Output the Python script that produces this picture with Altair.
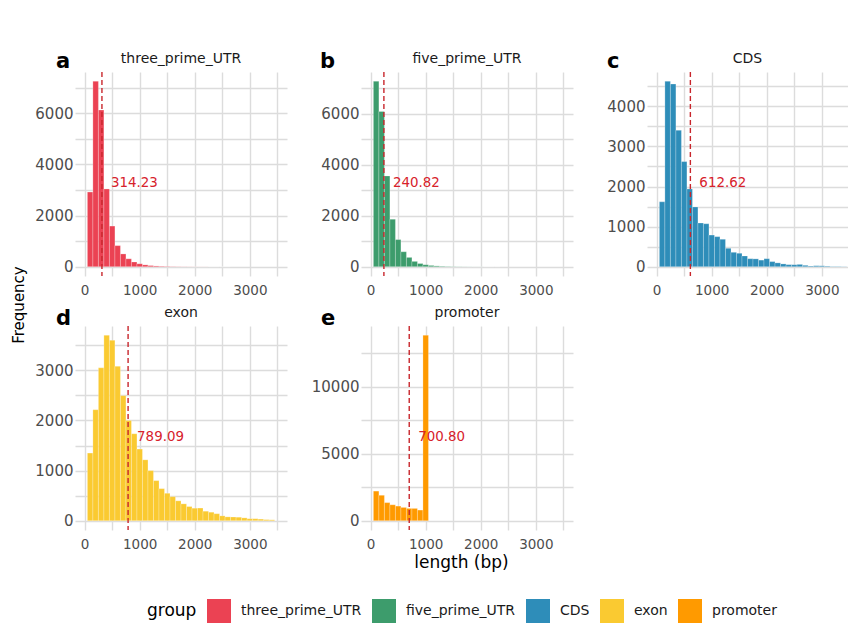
import altair as alt
import pandas as pd

FONT = "DejaVu Sans"

# Feature types, panel tags, fill colours and mean lengths
GROUPS = ["three_prime_UTR", "five_prime_UTR", "CDS", "exon", "promoter"]
LETTERS = ["a", "b", "c", "d", "e"]
COLORS = ["#EB4253", "#3D9C6C", "#2E8DB9", "#FACA31", "#FF9A00"]
MEAN_LEN = [314.23, 240.82, 612.62, 789.09, 700.80]

# Histogram bins: 100 bp wide, first bin starts at 50 bp
BIN_WIDTH = 100
BIN_START = list(range(50, 3450, BIN_WIDTH))

# Counts per bin for each feature type
COUNT_3UTR = [2920, 7250, 6125, 3040, 1590, 825, 500, 310, 185, 115, 72, 45,
              30, 20, 14, 10, 7, 5, 4, 3, 2, 2, 1, 1, 1, 1, 0, 0, 0, 0, 0, 0, 0, 0]
COUNT_5UTR = [7265, 6080, 3555, 1860, 1063, 587, 365, 209, 125, 78, 50, 32,
              20, 13, 9, 6, 4, 3, 2, 2, 1, 1, 1, 0, 0, 0, 0, 0, 0, 0, 0, 0, 0, 0]
COUNT_CDS = [1618, 4625, 4556, 3402, 2622, 1940, 1490, 1090, 1072, 790, 750, 685,
             460, 360, 336, 268, 200, 196, 165, 200, 128, 96, 70, 52, 50, 58,
             35, 18, 25, 23, 15, 8, 8, 5]
COUNT_EXON = [1350, 2215, 3050, 3700, 3600, 3080, 2495, 2000, 1735, 1430, 1215, 1000,
              800, 640, 548, 480, 397, 337, 283, 250, 253, 190, 170, 140, 97, 77,
              74, 70, 57, 40, 40, 32, 22, 18]
COUNT_PROMOTER = [2210, 1900, 1350, 1190, 1092, 992, 918, 918, 795, 13840,
                  0, 0, 0, 0, 0, 0, 0, 0, 0, 0, 0, 0, 0, 0, 0, 0, 0, 0, 0, 0, 0, 0, 0, 0]
COUNTS = [COUNT_3UTR, COUNT_5UTR, COUNT_CDS, COUNT_EXON, COUNT_PROMOTER]

# x limits 0-3500 with 5% expansion on each side
X_LO, X_HI = -175, 3675
FULL_W = 212
PANEL_H = 204
COL_GAP = 74
ROW_GAP = 50

LINE_RED = "#C8262C"
TEXT_RED = "#D7212B"
GRID = "#dcdcdc"

color_scale = alt.Scale(domain=GROUPS, range=COLORS)
legend = alt.Legend(
    orient="none", legendX=72, legendY=527, direction="horizontal",
    title="group", titleOrient="left", titleFontSize=17, titleFontWeight="normal",
    titleColor="black", titlePadding=10, titleFont=FONT,
    titleAnchor="middle", titleBaseline="middle",
    labelFontSize=14, labelColor="#1a1a1a", labelFont=FONT, labelOffset=10,
    symbolType="square", symbolSize=576, symbolStrokeWidth=0, symbolOpacity=1,
    columnPadding=10,
)


def panel(i, width, y_step, y_major, letter_dx, letter_dy, x_title=None, y_title=False):
    name = GROUPS[i]
    counts = COUNTS[i]
    peak = max(counts)

    bars_df = pd.DataFrame({
        "start": BIN_START,
        "end": [s + BIN_WIDTH for s in BIN_START],
        "count": counts,
        "base": 0,
        "group": name,
    })
    stat_df = pd.DataFrame({
        "group": [name],
        "mean": [MEAN_LEN[i]],
        "label": [f"{MEAN_LEN[i]:.2f}"],
        "ypos": [0.45 * peak],
        "letter": [LETTERS[i]],
    })

    x_right = X_LO + (X_HI - X_LO) * width / FULL_W
    x_scale = alt.Scale(domain=[X_LO, x_right], nice=False, zero=False)
    y_scale = alt.Scale(domain=[-0.05 * peak, 1.05 * peak], nice=False, zero=False)

    # major gridlines carry labels, the half-step ones are unlabeled minor lines
    x_axis_args = dict(
        values=list(range(0, 3501, 500)), format="d",
        labelExpr="datum.value % 1000 === 0 ? datum.label : ''",
        ticks=False, domain=False, labelFontSize=13.5, labelColor="#4d4d4d",
        labelPadding=7, labelFont=FONT,
        gridColor=GRID, gridWidth=1.4,
    )
    if x_title:
        x_axis = alt.Axis(title=x_title, titleFontSize=17, titleFontWeight="normal",
                          titleColor="black", titlePadding=4, titleFont=FONT,
                          titleX=100, **x_axis_args)
    else:
        x_axis = alt.Axis(title=None, **x_axis_args)

    y_axis = alt.Axis(
        title=None, values=list(range(0, int(1.05 * peak) + 1, y_step)), format="d",
        labelExpr=f"datum.value % {y_major} === 0 ? datum.label : ''",
        ticks=False, domain=False, labelFontSize=15, labelColor="#4d4d4d",
        labelPadding=2, labelFont=FONT,
        gridColor=GRID, gridWidth=1.4,
    )

    bars = alt.Chart(bars_df).transform_filter("datum.count > 0").mark_rect(
        stroke="white", strokeWidth=0.4, strokeOpacity=0.6
    ).encode(
        x=alt.X("start:Q", scale=x_scale, axis=x_axis),
        x2="end:Q",
        y=alt.Y("count:Q", scale=y_scale, axis=y_axis),
        y2="base:Q",
        color=alt.Color("group:N", scale=color_scale, legend=legend),
    )
    rule = alt.Chart(stat_df).mark_rule(
        color=LINE_RED, strokeDash=[5, 3], strokeWidth=1.4
    ).encode(x=alt.X("mean:Q", scale=x_scale, axis=x_axis))
    label = alt.Chart(stat_df).mark_text(
        align="left", baseline="middle", dx=9, fontSize=13.4, color=TEXT_RED, font=FONT
    ).encode(
        x=alt.X("mean:Q", scale=x_scale, axis=x_axis),
        y=alt.Y("ypos:Q", scale=y_scale, axis=y_axis),
        text="label:N",
    )
    tag = alt.Chart(stat_df).mark_text(
        align="left", baseline="alphabetic", fontSize=21, fontWeight="bold",
        color="black", font=FONT
    ).encode(x=alt.value(letter_dx), y=alt.value(letter_dy), text="letter:N")
    strip = alt.Chart(stat_df).mark_text(
        align="center", baseline="alphabetic", fontSize=14, color="#1a1a1a", font=FONT
    ).encode(x=alt.value(width / 2), y=alt.value(-9), text="group:N")

    layers = [bars, rule, label, tag, strip]
    if y_title:
        ytitle = alt.Chart(stat_df).mark_text(
            text="Frequency", angle=270, align="center", baseline="middle",
            fontSize=15, color="black", font=FONT
        ).encode(x=alt.value(-56), y=alt.value(-21))
        layers.append(ytitle)

    return alt.layer(*layers).properties(width=width, height=PANEL_H)


# the third column is narrower so the grid fits the page width
c_width = 849 - (76 + 2 * FULL_W + 2 * COL_GAP)

chart = alt.concat(
    panel(0, FULL_W, 1000, 2000, -19, -4),
    panel(1, FULL_W, 1000, 2000, -41, -4),
    panel(2, c_width, 500, 1000, -40, -4),
    panel(3, FULL_W, 500, 1000, -19, -1, y_title=True),
    panel(4, FULL_W, 2500, 5000, -40, -1, x_title="length (bp)"),
    columns=3, spacing={"row": ROW_GAP, "column": COL_GAP}, bounds="flush",
).resolve_scale(
    color="shared"
).configure(
    font=FONT, background="white",
    padding={"left": 12, "top": 51, "right": 0, "bottom": 0},
).configure_view(strokeWidth=0)

chart.save("out.html", embed_options={"renderer": "svg", "actions": False})
